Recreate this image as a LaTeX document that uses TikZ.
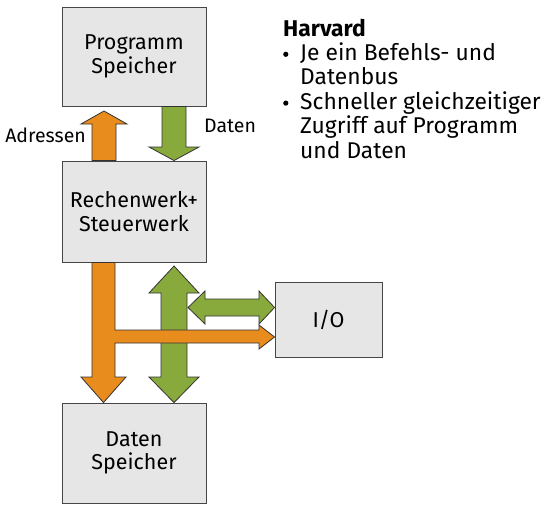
\documentclass[tikz,border=0pt]{standalone}
\usepackage{fontspec}
\setmainfont{Fira Sans}
\usetikzlibrary{calc}
\definecolor{orng}{RGB}{232,140,30}
\definecolor{grn}{RGB}{136,170,60}
\definecolor{boxfill}{RGB}{230,230,230}
\definecolor{edge}{RGB}{70,70,70}
\begin{document}
\begin{tikzpicture}[x=1pt,y=-1pt,
  blk/.style={draw=edge,fill=boxfill,line width=0.9pt,inner sep=0pt,align=center,
    font=\fontsize{21.5}{23.5}\selectfont},
  oarrow/.style={fill=orng,draw=black!80,line width=0.8pt,line join=miter},
  garrow/.style={fill=grn,draw=black!80,line width=0.8pt,line join=miter},
  lbl/.style={font=\fontsize{19.5}{22}\selectfont,inner sep=0pt}]
\useasboundingbox (0,0) rectangle (551,512);
% boxes
\node[blk,minimum width=144pt,minimum height=99pt] (ps) at (134,56.5) {Programm\\Speicher};
\node[blk,minimum width=144pt,minimum height=101pt] (rw) at (134,211.5) {Rechenwerk+\\Steuerwerk};
\node[blk,minimum width=144pt,minimum height=100pt] (ds) at (134,453) {Daten\\Speicher};
\node[blk,minimum width=107pt,minimum height=75pt] (io) at (328.5,319.5) {I/O};
% Adressen arrow (up)
\draw[oarrow] (92,0 |- rw.north) -- (92,124) -- (81,124) -- (104,111) -- (127,124) -- (116,124) -- (116,0 |- rw.north) -- cycle;
% Daten arrow (down)
\draw[garrow] (162,0 |- ps.south) -- (162,147) -- (149,147) -- (174,0 |- rw.north) -- (199,147) -- (186,147) -- (186,0 |- ps.south) -- cycle;
% green vertical double arrow
\draw[garrow] (174,266) -- (199,293) -- (187,293) -- (187,377) -- (199,377) -- (174,0 |- ds.north)
  -- (149,377) -- (161,377) -- (161,293) -- (149,293) -- cycle;
% green horizontal double arrow
\draw[garrow] (188,307.5) -- (205,291) -- (205,299) -- (259,299) -- (259,291) -- (io.west |- 0,307.5)
  -- (259,324) -- (259,316) -- (205,316) -- (205,324) -- cycle;
% orange T arrow
\draw[oarrow] (92,0 |- rw.south) -- (92,377) -- (81,377) -- (103.5,0 |- ds.north) -- (126,377) -- (115,377)
  -- (115,343) -- (259,343) -- (259,349) -- (io.west |- 0,337) -- (259,325) -- (259,330) -- (115,330)
  -- (115,0 |- rw.south) -- cycle;
% labels
\node[lbl,anchor=base east] (adr) at (86,142) {Adressen};
\node[lbl,anchor=base west] (dat) at (204,132) {Daten};
% info text
\node[anchor=base west,inner sep=0pt,align=left,font=\fontsize{22.8}{24.4}\selectfont] (info) at (283,158)
  {\textbf{Harvard}\\
   \makebox[17pt][l]{\raisebox{3.5pt}{\tikz\fill (0,0) circle (2.6pt);}}Je ein Befehls- und\\
   \makebox[17pt][l]{}Datenbus\\
   \makebox[17pt][l]{\raisebox{3.5pt}{\tikz\fill (0,0) circle (2.6pt);}}Schneller gleichzeitiger\\
   \makebox[17pt][l]{}Zugriff auf Programm\\
   \makebox[17pt][l]{}und Daten};
\end{tikzpicture}
\end{document}
